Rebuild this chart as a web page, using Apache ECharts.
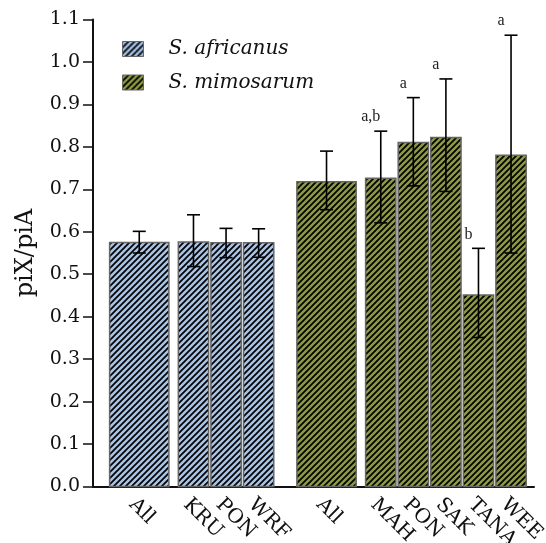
<!DOCTYPE html>
<html>
<head>
<meta charset="utf-8">
<script src="https://cdn.jsdelivr.net/npm/echarts@6/dist/echarts.min.js"></script>
<style>
  html, body { margin: 0; padding: 0; background: #fff; }
  #chart { width: 546px; height: 543px; }
</style>
</head>
<body>
<div id="chart"></div>
<script>
// ---- data ----
const seriesNames = ['S. africanus', 'S. mimosarum'];
const africanusCategories = ['All', 'KRU', 'PON', 'WRF'];
const africanusMean = [0.575, 0.576, 0.574, 0.574];
const africanusLow  = [0.550, 0.518, 0.539, 0.540];
const africanusHigh = [0.601, 0.640, 0.608, 0.607];
const africanusLetters = ['', '', '', ''];

const mimosarumCategories = ['All', 'MAH', 'PON', 'SAK', 'TANA', 'WEE'];
const mimosarumMean = [0.718, 0.726, 0.810, 0.822, 0.451, 0.780];
const mimosarumLow  = [0.652, 0.621, 0.708, 0.695, 0.351, 0.550];
const mimosarumHigh = [0.790, 0.837, 0.916, 0.960, 0.561, 1.063];
const mimosarumLetters = ['', 'a,b', 'a', 'a', 'b', 'a'];

const yTicks = [0, 0.1, 0.2, 0.3, 0.4, 0.5, 0.6, 0.7, 0.8, 0.9, 1.0, 1.1];

// ---- layout (slot units along x) ----
const L = { start: 0.51, allWidth: 1.82, allGap: 0.29, singleWidth: 0.93, singleStep: 1.0, groupGap: 0.71, axisMax: 13.54 };

function layoutGroup(cats, startX) {
  const out = [];
  let x = startX;
  cats.forEach((c, i) => {
    if (i === 0) {
      out.push([x, x + L.allWidth]);
      x += L.allWidth + L.allGap;
    } else {
      out.push([x, x + L.singleWidth]);
      x += L.singleStep;
    }
  });
  const end = out[out.length - 1][1];
  return { spans: out, end: end };
}
const gA = layoutGroup(africanusCategories, L.start);
const gM = layoutGroup(mimosarumCategories, gA.end + L.groupGap);

function buildData(spans, mean, low, high) {
  return spans.map((s, i) => [s[0], s[1], mean[i], low[i], high[i], i]);
}
const dataA = buildData(gA.spans, africanusMean, africanusLow, africanusHigh);
const dataM = buildData(gM.spans, mimosarumMean, mimosarumLow, mimosarumHigh);

const labelPositions = [];
const labelNames = [];
gA.spans.forEach((s, i) => { labelPositions.push((s[0] + s[1]) / 2); labelNames.push(africanusCategories[i]); });
gM.spans.forEach((s, i) => { labelPositions.push((s[0] + s[1]) / 2); labelNames.push(mimosarumCategories[i]); });

// ---- hatch patterns ----
function makePattern(base) {
  const c = document.createElement('canvas');
  const n = 6;
  c.width = n; c.height = n;
  const ctx = c.getContext('2d');
  ctx.fillStyle = base;
  ctx.fillRect(0, 0, n, n);
  ctx.strokeStyle = '#000';
  ctx.lineWidth = 1.7;
  ctx.beginPath();
  ctx.moveTo(-1, n + 1); ctx.lineTo(n + 1, -1);
  ctx.moveTo(-2, 2); ctx.lineTo(2, -2);
  ctx.moveTo(n - 2, n + 2); ctx.lineTo(n + 2, n - 2);
  ctx.stroke();
  return { image: c, repeat: 'repeat' };
}
const patA = makePattern('#a6c4e8');
const patM = makePattern('#8e9a3e');

function makeRender(pattern, letters) {
  return function (params, api) {
    const x0 = api.value(0), x1 = api.value(1);
    const v = api.value(2), lo = api.value(3), hi = api.value(4);
    const idx = api.value(5);
    const pTop = api.coord([x0, v]);
    const pBot = api.coord([x1, 0]);
    const cx = api.coord([(x0 + x1) / 2, hi])[0];
    const yHi = api.coord([x0, hi])[1];
    const yLo = api.coord([x0, lo])[1];
    const cap = 6.5;
    const children = [
      {
        type: 'rect',
        shape: { x: pTop[0], y: pTop[1], width: pBot[0] - pTop[0], height: pBot[1] - pTop[1] },
        style: { fill: pattern, stroke: '#666', lineWidth: 1.5 }
      },
      { type: 'line', shape: { x1: cx, y1: yHi, x2: cx, y2: yLo }, style: { stroke: '#000', lineWidth: 1.6 } },
      { type: 'line', shape: { x1: cx - cap, y1: yHi, x2: cx + cap, y2: yHi }, style: { stroke: '#000', lineWidth: 1.6 } },
      { type: 'line', shape: { x1: cx - cap, y1: yLo, x2: cx + cap, y2: yLo }, style: { stroke: '#000', lineWidth: 1.6 } }
    ];
    const t = letters[idx];
    if (t) {
      children.push({
        type: 'text',
        style: {
          text: t, x: cx - 10, y: yHi - 14,
          align: 'center', verticalAlign: 'middle',
          fontFamily: 'Liberation Serif', fontSize: 16, fill: '#222'
        }
      });
    }
    return { type: 'group', children: children };
  };
}

const chart = echarts.init(document.getElementById('chart'), null, { renderer: 'canvas' });
const serif = 'DejaVu Serif';

chart.setOption({
  animation: false,
  backgroundColor: '#fff',
  grid: { left: 93, right: 12, top: 19.5, bottom: 56.5, containLabel: false, outerBoundsMode: 'none' },
  legend: {
    left: 117, top: 34, orient: 'vertical', itemWidth: 21, itemHeight: 15, itemGap: 13.5,
    textStyle: { fontFamily: serif, fontStyle: 'italic', fontSize: 20, color: '#111', padding: [0, 0, 0, 20] },
    data: [
      { name: seriesNames[0], icon: 'rect', itemStyle: { color: patA, borderColor: '#666', borderWidth: 1 } },
      { name: seriesNames[1], icon: 'rect', itemStyle: { color: patM, borderColor: '#666', borderWidth: 1 } }
    ]
  },
  xAxis: {
    type: 'value', min: 0, max: L.axisMax,
    splitLine: { show: false },
    axisLine: { show: true, onZero: false, lineStyle: { color: '#111', width: 2 } },
    axisTick: { show: false },
    axisLabel: {
      customValues: labelPositions,
      rotate: -45, margin: 8, verticalAlign: 'top',
      fontFamily: serif, fontSize: 20, color: '#111',
      formatter: function (val) {
        let best = 0, bd = Infinity;
        labelPositions.forEach((p, i) => { const d = Math.abs(p - val); if (d < bd) { bd = d; best = i; } });
        return labelNames[best];
      }
    }
  },
  yAxis: {
    type: 'value', min: 0, max: 1.1, interval: 0.1,
    name: 'piX/piA', nameLocation: 'middle', nameGap: 55, nameRotate: 90,
    nameTextStyle: { fontFamily: serif, fontSize: 24, color: '#111' },
    splitLine: { show: false },
    axisLine: { show: true, lineStyle: { color: '#111', width: 2 } },
    axisTick: { show: true, length: 10, inside: false, lineStyle: { color: '#111', width: 1.5 } },
    axisLabel: {
      margin: 13, fontFamily: serif, fontSize: 19, color: '#111',
      customValues: yTicks,
      formatter: function (v) { return v.toFixed(1); }
    }
  },
  series: [
    {
      name: seriesNames[0], type: 'custom',
      itemStyle: { color: patA, borderColor: '#666', borderWidth: 1 },
      encode: { x: [0, 1], y: [2, 3, 4] },
      renderItem: makeRender(patA, africanusLetters),
      data: dataA
    },
    {
      name: seriesNames[1], type: 'custom',
      itemStyle: { color: patM, borderColor: '#666', borderWidth: 1 },
      encode: { x: [0, 1], y: [2, 3, 4] },
      renderItem: makeRender(patM, mimosarumLetters),
      data: dataM
    }
  ]
});
</script>
</body>
</html>
